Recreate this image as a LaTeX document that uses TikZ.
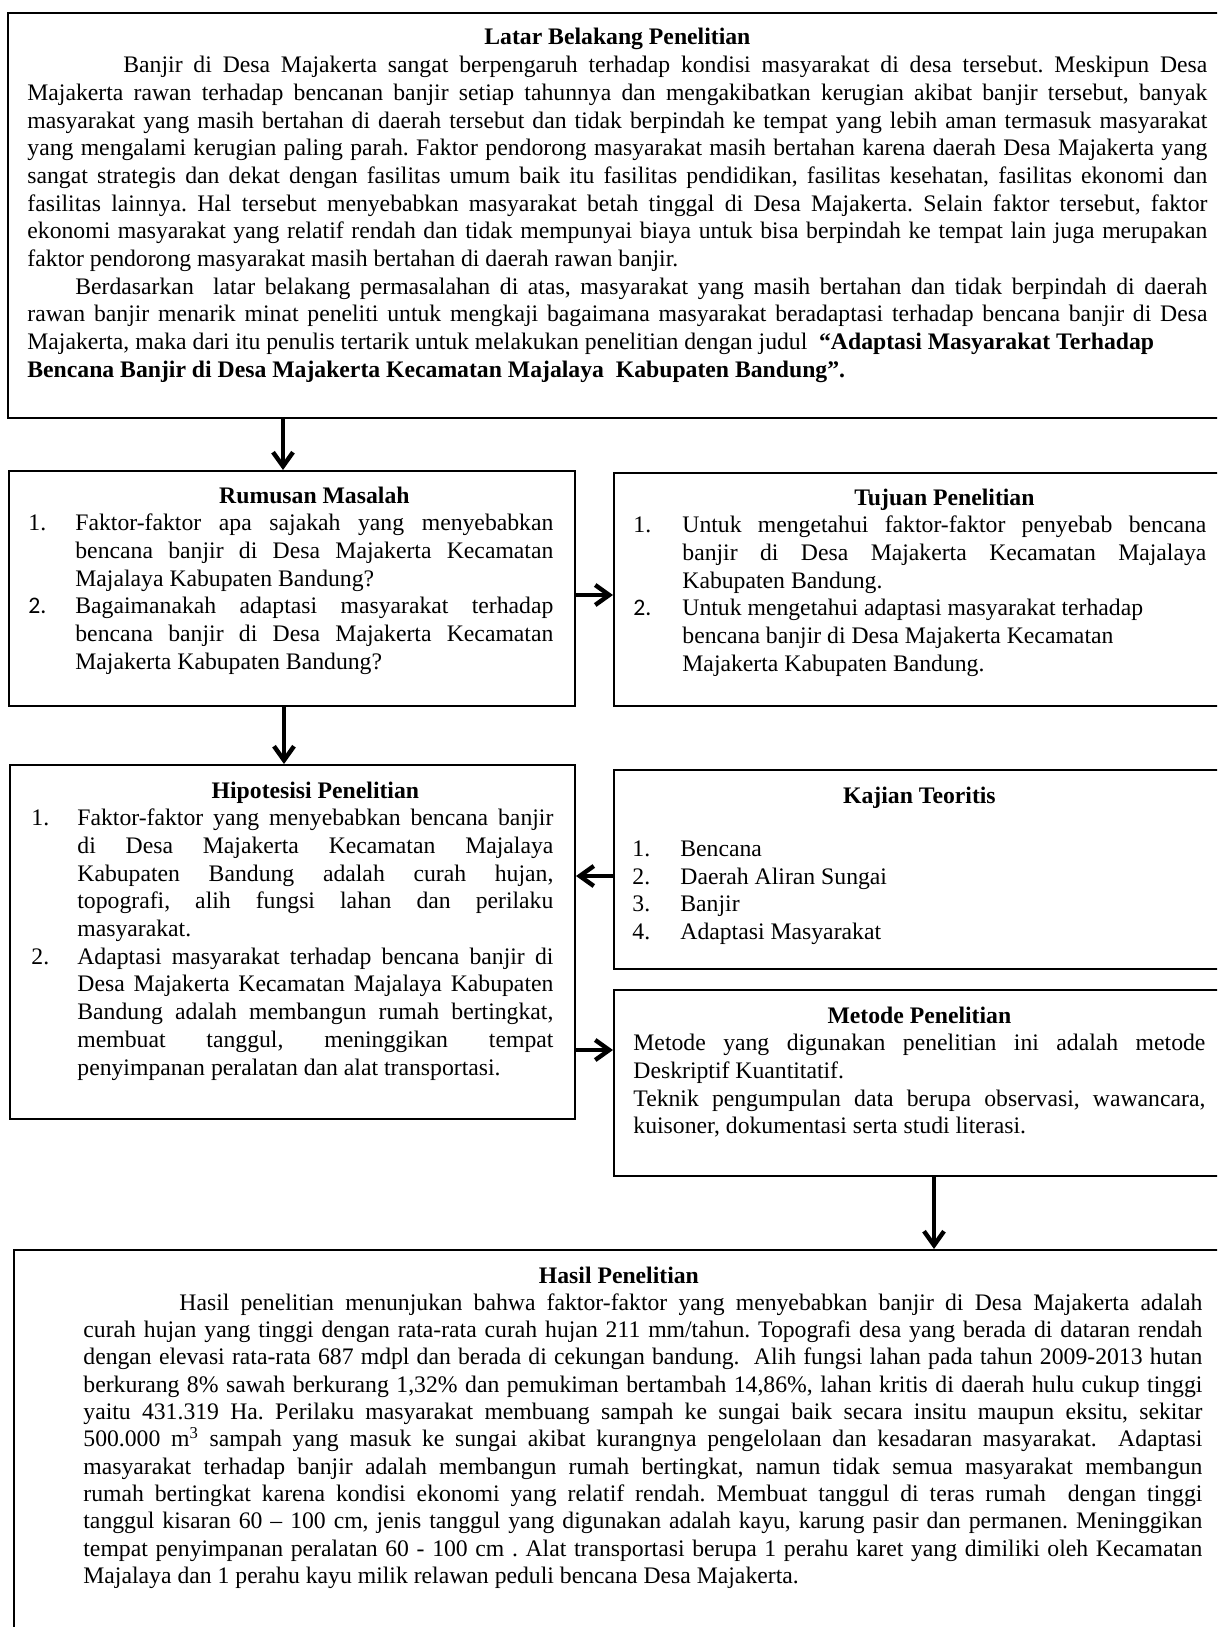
\documentclass[tikz,border=0pt]{standalone}
\usepackage{fontspec}
\setmainfont{Liberation Serif}
\newfontfamily\calibri{Carlito}
\usetikzlibrary{arrows.meta,calc}
\frenchspacing
\tolerance=10000
\hbadness=10000
\hyphenpenalty=10000
\exhyphenpenalty=10000
\newlength\gantung
\newcommand\judul[2][0pt]{\makebox[\linewidth]{\hspace*{#1}\textbf{#2}}\par}
\newcommand\butir[1]{\par\hangindent=\gantung\hangafter=1\makebox[\gantung][l]{#1}\ignorespaces}
\begin{document}
\begin{tikzpicture}[x=0.5pt,y=-0.5pt,
  kotak/.style={draw,line width=1pt,inner sep=0pt,anchor=north west},
  isi/.style={inner sep=0pt,anchor=base west,align=justify,font=\fontsize{11.85pt}{13.85pt}\selectfont},
  daftar/.style={isi,execute at begin node={\setlength\gantung{#1}}},
  panah/.style={line width=2.2pt,-{Straight Barb[length=7pt,width=10pt]}}]
\useasboundingbox (0,0) rectangle (1217,1627);
\clip (0,0) rectangle (1217,1627);
% kotak-kotak
\node[kotak,minimum width=609pt,minimum height=202.5pt] (latar) at (7,12) {};
\node[kotak,minimum width=283pt,minimum height=117.5pt] (rumusan) at (8,470) {};
\node[kotak,minimum width=306pt,minimum height=116.5pt] (tujuan) at (613,472) {};
\node[kotak,minimum width=282.5pt,minimum height=177pt] (hipotesis) at (9,764) {};
\node[kotak,minimum width=306pt,minimum height=99.5pt] (kajian) at (613,769) {};
\node[kotak,minimum width=306pt,minimum height=93pt] (metode) at (613,989) {};
\node[kotak,minimum width=606pt,minimum height=206pt] (hasil) at (13,1249) {};
% isi kotak
\node[isi,text width=590pt] (latar-isi) at (27,45) {\judul{Latar Belakang Penelitian}
\hspace*{48pt}Banjir di Desa Majakerta sangat berpengaruh terhadap kondisi masyarakat di desa tersebut. Meskipun Desa\linebreak
Majakerta rawan terhadap bencanan banjir setiap tahunnya dan mengakibatkan kerugian akibat banjir tersebut, banyak\linebreak
masyarakat yang masih bertahan di daerah tersebut dan tidak berpindah ke tempat yang lebih aman termasuk masyarakat\linebreak
yang mengalami kerugian paling parah. Faktor pendorong masyarakat masih bertahan karena daerah Desa Majakerta yang\linebreak
sangat strategis dan dekat dengan fasilitas umum baik itu fasilitas pendidikan, fasilitas kesehatan, fasilitas ekonomi dan\linebreak
fasilitas lainnya. Hal tersebut menyebabkan masyarakat betah tinggal di Desa Majakerta. Selain faktor tersebut, faktor\linebreak
ekonomi masyarakat yang relatif rendah dan tidak mempunyai biaya untuk bisa berpindah ke tempat lain juga merupakan\linebreak
faktor pendorong masyarakat masih bertahan di daerah rawan banjir.\par
\hspace*{24pt}Berdasarkan\ \ latar belakang permasalahan di atas, masyarakat yang masih bertahan dan tidak berpindah di daerah\linebreak
rawan banjir menarik minat peneliti untuk mengkaji bagaimana masyarakat beradaptasi terhadap bencana banjir di Desa\linebreak
Majakerta, maka dari itu penulis tertarik untuk melakukan penelitian dengan judul\ \ \textbf{“Adaptasi Masyarakat Terhadap}\\
\textbf{Bencana Banjir di Desa Majakerta Kecamatan Majalaya\ \ Kabupaten Bandung”.}};
\node[daftar=23.5pt,text width=262.5pt] (rumusan-isi) at (28,503) {\judul[\gantung]{Rumusan Masalah}
\butir{1.} Faktor-faktor apa sajakah yang menyebabkan\linebreak bencana banjir di Desa Majakerta Kecamatan\linebreak Majalaya Kabupaten Bandung?
\butir{\calibri 2.} Bagaimanakah adaptasi masyarakat terhadap\linebreak bencana banjir di Desa Majakerta Kecamatan\linebreak Majakerta Kabupaten Bandung?\par};
\node[daftar=24.5pt,text width=286.5pt] (tujuan-isi) at (633,505) {\judul[\gantung]{Tujuan Penelitian}
\butir{1.} Untuk mengetahui faktor-faktor penyebab bencana\linebreak banjir di Desa Majakerta Kecamatan Majalaya\linebreak Kabupaten Bandung.
\butir{\calibri 2.} Untuk mengetahui adaptasi masyarakat terhadap\\ bencana banjir di Desa Majakerta Kecamatan\\ Majakerta Kabupaten Bandung.\par};
\node[daftar=23pt,text width=261pt] (hipotesis-isi) at (31,798) {\judul[\gantung]{Hipotesisi Penelitian}
\butir{1.} Faktor-faktor yang menyebabkan bencana banjir\linebreak di Desa Majakerta Kecamatan Majalaya\linebreak Kabupaten Bandung adalah curah hujan,\linebreak topografi, alih fungsi lahan dan perilaku\linebreak masyarakat.
\butir{2.} Adaptasi masyarakat terhadap bencana banjir di\linebreak Desa Majakerta Kecamatan Majalaya Kabupaten\linebreak Bandung adalah membangun rumah bertingkat,\linebreak membuat tanggul, meninggikan tempat\linebreak penyimpanan peralatan dan alat transportasi.\par};
\node[daftar=24pt,text width=287pt] (kajian-isi) at (632,803) {\judul{Kajian Teoritis}
\vspace{12.8pt}
\butir{1.} Bencana
\butir{2.} Daerah Aliran Sungai
\butir{3.} Banjir
\butir{4.} Adaptasi Masyarakat\par};
\node[isi,text width=286pt] (metode-isi) at (633,1023) {\judul{Metode Penelitian}
Metode yang digunakan penelitian ini adalah metode\linebreak Deskriptif Kuantitatif.\par
Teknik pengumpulan data berupa observasi, wawancara,\linebreak kuisoner, dokumentasi serta studi literasi.};
\node[isi,text width=559.5pt,font=\fontsize{11.85pt}{13.65pt}\selectfont] (hasil-isi) at (83,1283) {\judul[-24pt]{Hasil Penelitian}
\hspace*{48pt}Hasil penelitian menunjukan bahwa faktor-faktor yang menyebabkan banjir di Desa Majakerta adalah\linebreak
curah hujan yang tinggi dengan rata-rata curah hujan 211 mm/tahun. Topografi desa yang berada di dataran rendah\linebreak
dengan elevasi rata-rata 687 mdpl dan berada di cekungan bandung.\ \ Alih fungsi lahan pada tahun 2009-2013 hutan\linebreak
berkurang 8\% sawah berkurang 1,32\% dan pemukiman bertambah 14,86\%, lahan kritis di daerah hulu cukup tinggi\linebreak
yaitu 431.319 Ha. Perilaku masyarakat membuang sampah ke sungai baik secara insitu maupun eksitu, sekitar\linebreak
500.000 m\textsuperscript{3} sampah yang masuk ke sungai akibat kurangnya pengelolaan dan kesadaran masyarakat.\ \ Adaptasi\linebreak
masyarakat terhadap banjir adalah membangun rumah bertingkat, namun tidak semua masyarakat membangun\linebreak
rumah bertingkat karena kondisi ekonomi yang relatif rendah. Membuat tanggul di teras rumah\ \ dengan tinggi\linebreak
tanggul kisaran 60 – 100 cm, jenis tanggul yang digunakan adalah kayu, karung pasir dan permanen. Meninggikan\linebreak
tempat penyimpanan peralatan 60 - 100 cm . Alat transportasi berupa 1 perahu karet yang dimiliki oleh Kecamatan\linebreak
Majalaya dan 1 perahu kayu milik relawan peduli bencana Desa Majakerta.};
% panah
\draw[panah] ($(rumusan.north |- latar.south)+(-4.5pt,0)$) -- ($(rumusan.north)+(-4.5pt,0)$);
\draw[panah] ($(rumusan.east)+(0,-3.25pt)$) -- ($(rumusan.east -| tujuan.west)+(0,-3.25pt)$);
\draw[panah] ($(rumusan.south)+(-4pt,0)$) -- ($(rumusan.south |- hipotesis.north)+(-4pt,0)$);
\draw[panah] ($(kajian.west)+(0,-3.25pt)$) -- ($(kajian.west -| hipotesis.east)+(0,-3.25pt)$);
\draw[panah] ($(metode.west -| hipotesis.east)+(0,16.5pt)$) -- ($(metode.west)+(0,16.5pt)$);
\draw[panah] ($(metode.south)+(7pt,0)$) -- ($(metode.south |- hasil.north)+(7pt,0)$);
\end{tikzpicture}
\end{document}
